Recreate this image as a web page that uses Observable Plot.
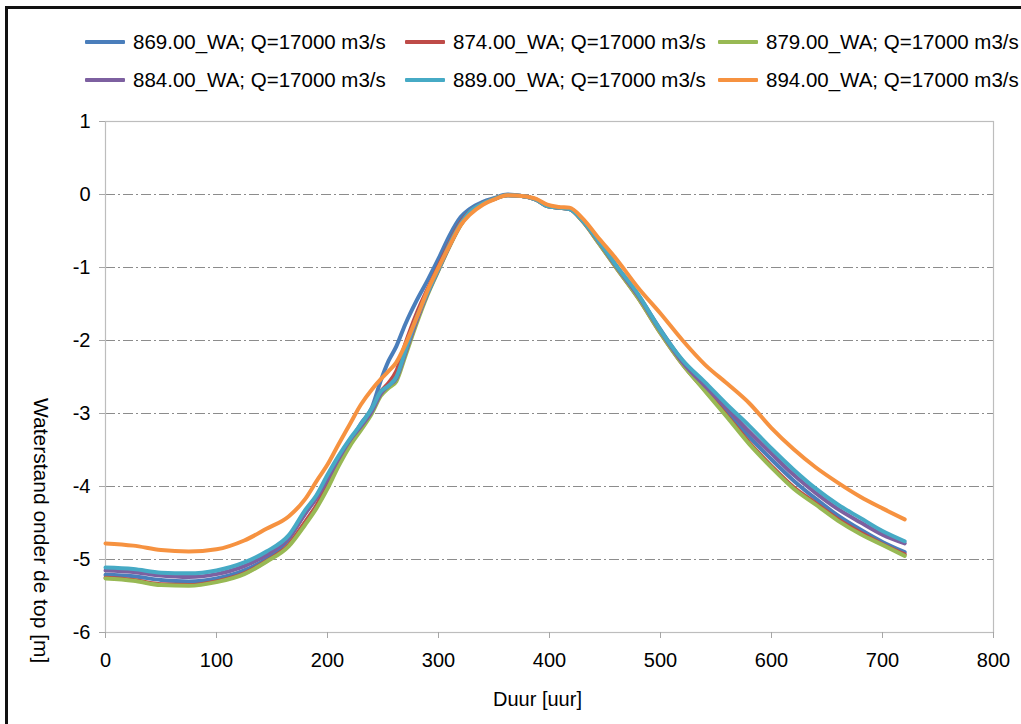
<!DOCTYPE html>
<html>
<head>
<meta charset="utf-8">
<script src="https://cdn.jsdelivr.net/npm/d3@7"></script>
<script src="https://cdn.jsdelivr.net/npm/@observablehq/plot@0.6"></script>
<style>
  html, body { margin: 0; padding: 0; background: #fff; overflow: hidden; width: 1021px; height: 724px; }
  body { position: relative; font-family: "Liberation Sans", Arial, sans-serif; }
  #frame { position: absolute; left: 5px; top: 6px; width: 1100px; height: 800px; border: 3px solid #111; box-sizing: border-box; }
  #legend { position: absolute; left: 85px; top: 23px; display: grid; grid-template-columns: 320px 313px 320px; grid-auto-rows: 38px; font-size: 20.5px; color: #000; white-space: nowrap; }
  #legend .item { display: flex; align-items: center; }
  #legend .sw { width: 40px; height: 4px; margin-right: 8px; border-radius: 1px; }
  #chart { position: absolute; left: 0; top: 100px; }
</style>
</head>
<body>
<div id="frame"></div>
<div id="legend"></div>
<div id="chart"></div>
<script>
const hours = [0,25,50,75,100,125,145,165,180,190,200,210,220,230,240,248,255,262,270,280,290,300,310,320,328,340,350,362,375,388,398,408,418,430,445,460,480,500,520,540,560,580,600,620,640,660,680,700,720];

const s869 = [-5.21,-5.23,-5.28,-5.30,-5.26,-5.15,-4.99,-4.72,-4.36,-4.15,-3.90,-3.65,-3.40,-3.14,-2.92,-2.55,-2.28,-2.08,-1.78,-1.46,-1.18,-0.88,-0.56,-0.31,-0.20,-0.10,-0.05,0.0,-0.02,-0.07,-0.15,-0.18,-0.19,-0.35,-0.65,-0.97,-1.38,-1.85,-2.28,-2.60,-2.97,-3.32,-3.63,-3.92,-4.17,-4.40,-4.59,-4.76,-4.90];
const s874 = [-5.25,-5.28,-5.34,-5.35,-5.30,-5.19,-5.02,-4.80,-4.48,-4.26,-3.98,-3.69,-3.42,-3.18,-2.94,-2.70,-2.58,-2.42,-2.05,-1.64,-1.30,-0.98,-0.66,-0.38,-0.24,-0.12,-0.06,-0.01,-0.02,-0.07,-0.16,-0.18,-0.20,-0.37,-0.68,-1.00,-1.42,-1.90,-2.33,-2.68,-3.03,-3.40,-3.72,-4.01,-4.23,-4.45,-4.63,-4.79,-4.93];
const s879 = [-5.26,-5.29,-5.35,-5.36,-5.31,-5.20,-5.03,-4.82,-4.52,-4.30,-4.03,-3.72,-3.45,-3.23,-3.00,-2.76,-2.65,-2.56,-2.22,-1.78,-1.38,-1.04,-0.71,-0.42,-0.26,-0.13,-0.06,-0.01,-0.02,-0.07,-0.16,-0.18,-0.20,-0.37,-0.68,-1.00,-1.42,-1.90,-2.33,-2.69,-3.05,-3.42,-3.74,-4.03,-4.25,-4.47,-4.65,-4.80,-4.95];
const s884 = [-5.15,-5.17,-5.22,-5.24,-5.20,-5.09,-4.94,-4.70,-4.37,-4.16,-3.90,-3.62,-3.37,-3.18,-2.97,-2.73,-2.62,-2.52,-2.18,-1.74,-1.36,-1.03,-0.70,-0.41,-0.25,-0.12,-0.06,-0.01,-0.02,-0.07,-0.16,-0.18,-0.20,-0.36,-0.66,-0.98,-1.39,-1.87,-2.30,-2.62,-2.93,-3.25,-3.55,-3.84,-4.09,-4.31,-4.49,-4.66,-4.78];
const s889 = [-5.11,-5.13,-5.18,-5.19,-5.15,-5.04,-4.89,-4.67,-4.32,-4.12,-3.84,-3.58,-3.35,-3.15,-2.93,-2.70,-2.62,-2.50,-2.15,-1.70,-1.35,-1.02,-0.68,-0.40,-0.24,-0.12,-0.06,-0.01,-0.02,-0.07,-0.16,-0.18,-0.20,-0.36,-0.65,-0.97,-1.37,-1.86,-2.27,-2.57,-2.88,-3.17,-3.48,-3.77,-4.03,-4.25,-4.43,-4.61,-4.75];
const s894 = [-4.78,-4.81,-4.87,-4.89,-4.86,-4.74,-4.58,-4.41,-4.17,-3.93,-3.70,-3.42,-3.15,-2.88,-2.67,-2.53,-2.42,-2.30,-2.06,-1.70,-1.32,-1.00,-0.70,-0.42,-0.28,-0.14,-0.07,-0.01,-0.02,-0.06,-0.14,-0.17,-0.18,-0.33,-0.61,-0.88,-1.28,-1.63,-2.00,-2.33,-2.59,-2.86,-3.20,-3.49,-3.74,-3.95,-4.14,-4.30,-4.45];

const seriesNames = ["869.00_WA; Q=17000 m3/s","874.00_WA; Q=17000 m3/s","879.00_WA; Q=17000 m3/s","884.00_WA; Q=17000 m3/s","889.00_WA; Q=17000 m3/s","894.00_WA; Q=17000 m3/s"];
const seriesValues = [s869, s874, s879, s884, s889, s894];
const seriesColors = ["#4A7EBB","#BE4B48","#98B954","#7D60A0","#46AAC5","#F69240"];

const xTicks = [0,100,200,300,400,500,600,700,800];
const yTicks = [1,0,-1,-2,-3,-4,-5,-6];
const gridTicks = [0,-1,-2,-3,-4,-5];
const xTitle = "Duur [uur]";
const yTitle = "Waterstand onder de top [m]";

const rows = [];
seriesNames.forEach((name, i) => {
  hours.forEach((h, j) => rows.push({series: name, hour: h, value: seriesValues[i][j]}));
});

// legend
const legend = document.getElementById("legend");
seriesNames.forEach((name, i) => {
  const it = document.createElement("div");
  it.className = "item";
  const sw = document.createElement("span");
  sw.className = "sw";
  sw.style.background = seriesColors[i];
  const tx = document.createElement("span");
  tx.textContent = name;
  it.appendChild(sw); it.appendChild(tx);
  legend.appendChild(it);
});

const chart = Plot.plot({
  width: 1021,
  height: 620,
  marginLeft: 105,
  marginRight: 28,
  marginTop: 21,
  marginBottom: 88,
  style: {fontFamily: "'Liberation Sans', Arial, sans-serif", fontSize: "20px", color: "#000", background: "transparent", overflow: "visible"},
  x: {domain: [0, 800]},
  y: {domain: [-6, 1]},
  color: {domain: seriesNames, range: seriesColors},
  marks: [
    Plot.ruleY(gridTicks, {stroke: "#8c8c8c", strokeWidth: 1.2, strokeDasharray: "10,3,2,3"}),
    Plot.frame({stroke: "#bdbdbd", strokeWidth: 1.2}),
    Plot.axisX({ticks: xTicks, tickSize: 6, tickPadding: 14, label: null, stroke: "#a6a6a6", fill: "#000", tickFormat: d => String(d)}),
    Plot.axisY({ticks: yTicks, tickSize: 6, tickPadding: 9, label: null, stroke: "#a6a6a6", fill: "#000", tickFormat: d => d < 0 ? "-" + Math.abs(d) : String(d)}),
    Plot.line(rows, {x: "hour", y: "value", z: "series", stroke: "series", strokeWidth: 4, curve: "monotone-x", strokeLinejoin: "round", strokeLinecap: "round"}),
    Plot.text([xTitle], {frameAnchor: "bottom", dx: -12, dy: 73, text: d => d, fontSize: 20, fill: "#000"}),
    Plot.text([yTitle], {frameAnchor: "left", rotate: 90, dx: -65, dy: 21, text: d => d, fontSize: 21, fill: "#000"})
  ]
});
document.getElementById("chart").appendChild(chart);
</script>
</body>
</html>
